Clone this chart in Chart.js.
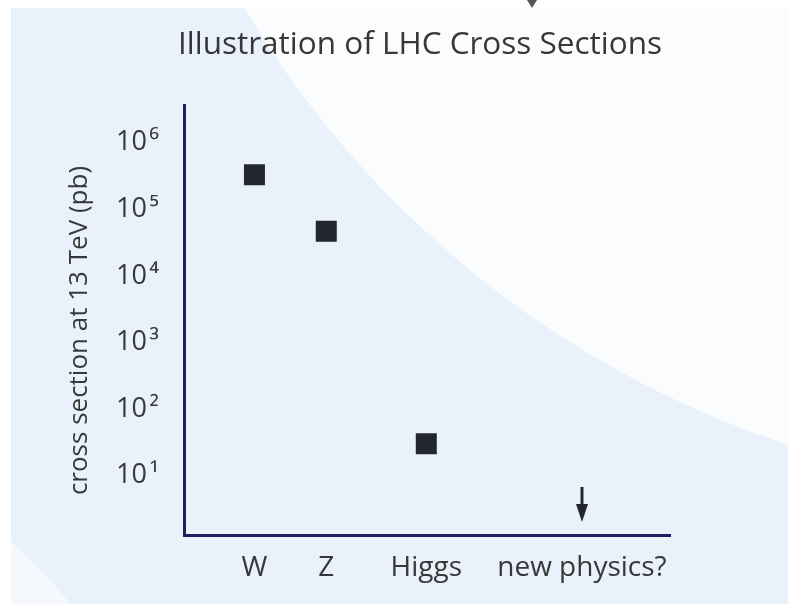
<!DOCTYPE html>
<html><head><meta charset="utf-8">
<script src="https://cdn.jsdelivr.net/npm/chart.js@4/dist/chart.umd.min.js"></script>
<style>html,body{margin:0;padding:0;background:#fff}canvas{display:block}</style>
</head><body>
<canvas id="c" width="788" height="604"></canvas>
<script>
// ---- data ----
const categories = ['W', 'Z', 'Higgs', 'new physics?'];
const categoryX = [1, 2.02, 3.44, 5.65];          // category positions on the x axis (data units)
const crossSections = [330000, 47000, 30, null];  // pb
const upperLimits = [null, null, null, 3.6];      // arrow = "below this"
const tickExponents = [1, 2, 3, 4, 5, 6];
const yMin = Math.pow(10, 0.105);
const yMax = Math.pow(10, 6.556);

const SUP = {'0':'⁰','1':'¹','2':'²','3':'³','4':'⁴','5':'⁵','6':'⁶','7':'⁷','8':'⁸','9':'⁹'};
const FONT = "'Open Sans', 'Noto Sans', sans-serif";
const TEXT = '#383838';
const AXIS = '#1d2061';

// arrow marker for the upper limit
function makeArrow() {
  const cv = document.createElement('canvas');
  cv.width = 14; cv.height = 36;
  const g = cv.getContext('2d');
  g.fillStyle = '#25262c';
  g.fillRect(5.5, 0, 3, 20);
  g.beginPath();
  g.moveTo(1, 17); g.lineTo(13, 17); g.lineTo(7, 35); g.closePath();
  g.fill();
  return cv;
}

const background = {
  id: 'background',
  beforeDraw(chart) {
    const ctx = chart.ctx;
    const W = chart.width, H = chart.height;
    ctx.save();
    ctx.fillStyle = '#ffffff';
    ctx.fillRect(0, 0, W, H);
    ctx.beginPath();
    ctx.rect(11, 8, W - 11, H - 8);
    ctx.clip();
    ctx.fillStyle = '#e9f2fb';
    ctx.fillRect(11, 8, W - 11, H - 8);
    ctx.fillStyle = '#fafcfe';
    ctx.beginPath(); ctx.arc(1100, -500, 995, 0, Math.PI * 2); ctx.fill();
    ctx.fillStyle = '#f5f9fd';
    ctx.beginPath(); ctx.arc(-300, 900, 474, 0, Math.PI * 2); ctx.fill();
    ctx.restore();
    // small cropped arrow head at the top edge
    ctx.save();
    ctx.fillStyle = '#555';
    ctx.beginPath(); ctx.moveTo(527, 0); ctx.lineTo(537, 0); ctx.lineTo(532, 8); ctx.closePath(); ctx.fill();
    ctx.restore();
  }
};

const measured = categories.map((c, i) => crossSections[i] == null ? null : {x: categoryX[i], y: crossSections[i]}).filter(p => p);
const limits = categories.map((c, i) => upperLimits[i] == null ? null : {x: categoryX[i], y: upperLimits[i]}).filter(p => p);

new Chart(document.getElementById('c'), {
  type: 'scatter',
  data: {
    datasets: [
      {label: 'cross section', data: measured, pointStyle: 'rect', pointRadius: 14.85, pointHoverRadius: 14.85,
       backgroundColor: '#23252f', borderColor: '#23252f', borderWidth: 0},
      {label: 'upper limit', data: limits, pointStyle: makeArrow(), pointRadius: 10, borderWidth: 0}
    ]
  },
  options: {
    responsive: false,
    devicePixelRatio: 1,
    animation: false,
    layout: {padding: {left: 52, top: 8, right: 0, bottom: 0}},
    plugins: {
      legend: {display: false},
      tooltip: {enabled: false},
      title: {display: true, text: 'Illustration of LHC Cross Sections', color: TEXT,
              font: {family: FONT, size: 31.5, weight: 'normal'}, padding: {top: 18, bottom: 42}}
    },
    scales: {
      x: {
        type: 'linear', min: 0, max: 6.9,
        grid: {display: false},
        border: {display: true, color: AXIS, width: 3},
        afterBuildTicks: s => { s.ticks = categoryX.map(v => ({value: v})); },
        afterFit: s => { s.height = 69; },
        ticks: {autoSkip: false, maxRotation: 0, color: TEXT, padding: 8,
                font: {family: FONT, size: 28},
                callback: v => { const i = categoryX.indexOf(v); return i >= 0 ? categories[i] : ''; }}
      },
      y: {
        type: 'logarithmic', min: yMin, max: yMax,
        grid: {display: false},
        border: {display: true, color: AXIS, width: 3},
        afterBuildTicks: s => { s.ticks = tickExponents.map(e => ({value: Math.pow(10, e)})); },
        afterFit: s => { s.width = 132; },
        title: {display: true, text: 'cross section at 13 TeV (pb)   ', color: TEXT,
                font: {family: FONT, size: 26}, padding: {top: 12, bottom: 0}},
        ticks: {color: TEXT, padding: 17, font: {family: FONT, size: 27},
                callback: v => '10\u200A' + String(Math.round(Math.log10(v))).split('').map(d => SUP[d]).join('')}
      },
      spacer: {
        type: 'linear', position: 'right', display: true,
        grid: {display: false}, border: {display: false},
        ticks: {display: false},
        afterFit: s => { s.width = 118; }
      }
    }
  },
  plugins: [background]
});
</script>
</body></html>
